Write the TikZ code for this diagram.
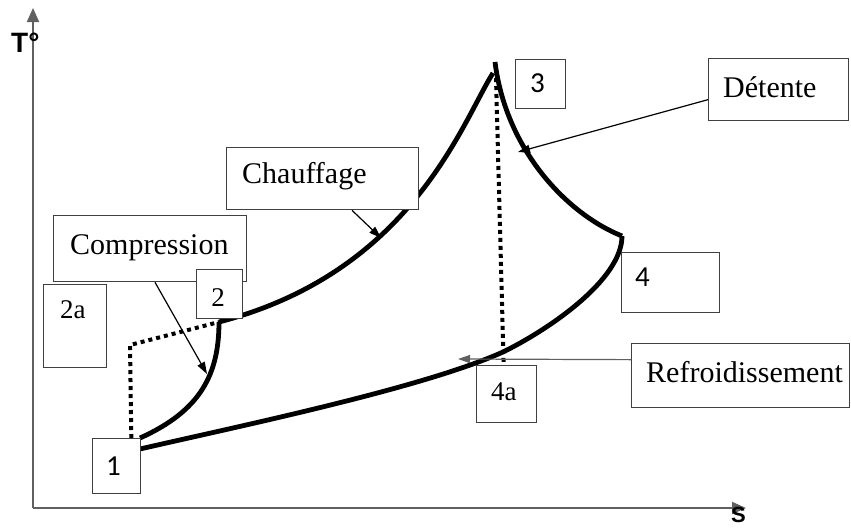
\documentclass[tikz,border=0pt]{standalone}
\usepackage{fontspec}
\setmainfont{Liberation Serif}
\newfontfamily\digitfont{Carlito}
\newfontfamily\axisfont{Liberation Sans}
\usetikzlibrary{arrows.meta}
\definecolor{boxgray}{HTML}{404040}
\definecolor{axisgray}{HTML}{606060}
\tikzset{
  box/.style={draw=boxgray, line width=1.3pt, fill=white, inner sep=0pt, anchor=north west},
  lbl/.style={inner sep=0pt, anchor=base west, font=\fontsize{30}{36}\selectfont},
  numserif/.style={inner sep=0pt, anchor=base west, font=\fontsize{27}{32}\selectfont},
  numsans/.style={inner sep=0pt, anchor=base west, font=\digitfont\fontsize{29}{34}\selectfont},
  axislbl/.style={inner sep=0pt, anchor=base west, font=\axisfont\bfseries\fontsize{28}{32}\selectfont},
  axis/.style={draw=axisgray, line width=2pt, -{Triangle[length=14pt,width=12pt]}},
  cycle/.style={line width=4.8pt},
  dots/.style={line width=4pt, dash pattern=on 4pt off 4pt},
  pointer/.style={line width=1.2pt, -{Triangle[length=12pt,width=8pt]}},
}
\begin{document}
\begin{tikzpicture}[x=1pt,y=-1pt]
\useasboundingbox (0,0) rectangle (851,528);

% axes
\coordinate (O) at (33,508);
\coordinate (Ttop) at (33,8);
\coordinate (Send) at (746,508);
\draw[axis] (O) -- (Ttop);
\draw[axis] (O) -- (Send);
\node[axislbl] (tlab) at (11,52) {T°};
\node[axislbl, font=\axisfont\bfseries\fontsize{22}{26}\selectfont] (slab) at (731,522) {S};

% cycle points
\coordinate (P1) at (140,438);
\coordinate (P1b) at (140,449);
\coordinate (P2) at (219,322);
\coordinate (P3a) at (493,73);
\coordinate (P3b) at (495,62);
\coordinate (P4) at (622,236);
\coordinate (P4mid) at (503,352);

% compression 1 -> 2
\draw[cycle] (P1) .. controls (200,411) and (219,375) .. (P2);
% heating 2 -> 3
\draw[cycle] (P2) .. controls (412,272) and (462,122) .. (P3a);
% expansion 3 -> 4
\draw[cycle] (P3b) .. controls (506,150) and (567,214) .. (P4);
% cooling 4 -> 1
\draw[cycle] (P4) .. controls (622,280) and (548,330) .. (P4mid)
               .. controls (423,388) and (240,426) .. (P1b);

% boxes
\node[box, minimum width=193pt, minimum height=66pt] (compbox) at (53,215) {};
\node[box, minimum width=192pt, minimum height=62pt] (chaufbox) at (226,147) {};
\node[box, minimum width=63pt, minimum height=83pt] (box2a) at (43,284) {};
\node[box, minimum width=46pt, minimum height=49pt] (box2) at (196,269) {};
\node[box, minimum width=48pt, minimum height=55pt] (box1) at (92,438) {};
\node[box, minimum width=50pt, minimum height=49pt] (box3) at (515,59) {};
\node[box, minimum width=140pt, minimum height=62pt] (detbox) at (708,58) {};
\node[box, minimum width=98pt, minimum height=60pt] (box4) at (621,252) {};
\node[box, minimum width=218pt, minimum height=64pt] (refbox) at (631,343) {};
\node[box, minimum width=60pt, minimum height=57pt] (box4a) at (476,365) {};

% isentropic reference lines (dotted)
\coordinate (C2a) at (130,345);
\draw[dots] ([xshift=-10pt]box1.north east) -- (C2a) -- (P2);
\coordinate (Ptop) at (496,78);
\draw[dots] (Ptop) -- ([xshift=-3pt]box4a.north);

% texts
\node[lbl] (tcomp) at (70,254) {Compression};
\node[lbl] (tchauf) at (242,183) {Chauffage};
\node[lbl] (tdet) at (723,97) {Détente};
\node[lbl] (tref) at (646,382) {Refroidissement};
\node[numserif] (t2a) at (60,318) {2a};
\node[numserif, anchor=base] (t2) at (218,306) {2};
\node[numserif] (t4a) at (491,400) {4a};
\node[numsans, anchor=base] (t1) at (113.5,475) {1};
\node[numsans] (t3) at (530,92) {3};
\node[numsans] (t4) at (635,286) {4};

% pointers
\coordinate (Acomp) at (207,374);
\coordinate (Achauf) at (381,238);
\coordinate (Adet) at (518,152);
\coordinate (Aref) at (458,359);
\draw[pointer] ([xshift=102pt]compbox.south west) -- (Acomp);
\draw[pointer] ([xshift=126pt]chaufbox.south west) -- (Achauf);
\draw[pointer] ([yshift=-10pt]detbox.west) -- (Adet);
\draw[pointer, draw=axisgray] ([yshift=16pt]refbox.west) -- (Aref);
\end{tikzpicture}
\end{document}
